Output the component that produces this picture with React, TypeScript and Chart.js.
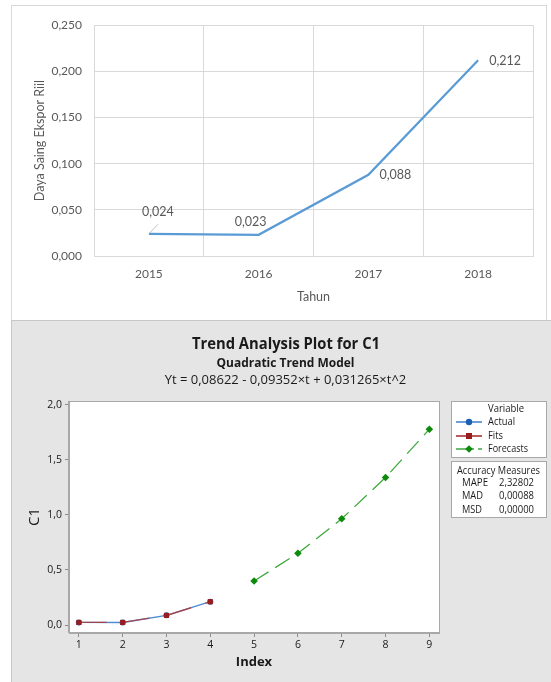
import React, { useEffect, useRef } from "react";
import { Chart, registerables } from "chart.js";

Chart.register(...registerables);

// ---------- Top chart data ----------
const years = ["2015", "2016", "2017", "2018"];
const dayaSaing = [0.024, 0.023, 0.088, 0.212];
const topYTicks = [0, 0.05, 0.1, 0.15, 0.2, 0.25];

// ---------- Bottom chart data ----------
const actualIndex = [1, 2, 3, 4];
const actualValues = [0.024, 0.023, 0.088, 0.212];
const fitValues = [0.024, 0.024, 0.087, 0.212];
const forecastIndex = [5, 6, 7, 8, 9];
const forecastValues = [0.4, 0.651, 0.964, 1.339, 1.777];
const bottomXTicks = [1, 2, 3, 4, 5, 6, 7, 8, 9];
const bottomYTicks = [0, 0.5, 1.0, 1.5, 2.0];
const legendNames = ["Actual", "Fits", "Forecasts"];
const accuracyNames = ["MAPE", "MAD", "MSD"];
const accuracyValues = ["2,32802", "0,00088", "0,00000"];

const fmt3 = (v: number) => Number(v).toFixed(3).replace(".", ",");
const fmt1 = (v: number) => Number(v).toFixed(1).replace(".", ",");

// label offsets (style, relative to each point)
const labelOffsets: [number, number][] = [
  [9, -21.5],
  [-8, -12.5],
  [27, 0.5],
  [27, 0.5],
];

const TOP_OX = 12;
const TOP_OY = 6;
const BOT_OX = 12;
const BOT_OY = 321;

const topLabelPlugin = {
  id: "topLabels",
  afterDatasetsDraw(chart: any) {
    const { ctx } = chart;
    const meta = chart.getDatasetMeta(0);
    ctx.save();
    ctx.font = '12.5px Lato';
    ctx.fillStyle = "#595959";
    ctx.textAlign = "center";
    ctx.textBaseline = "middle";
    meta.data.forEach((pt: any, i: number) => {
      const [dx, dy] = labelOffsets[i];
      ctx.fillText(fmt3(dayaSaing[i]), pt.x + dx, pt.y + dy);
      if (i === 0) {
        ctx.strokeStyle = "#BFBFBF";
        ctx.lineWidth = 1;
        ctx.beginPath();
        ctx.moveTo(pt.x + 0.5, pt.y - 0.5);
        ctx.lineTo(pt.x + 9, pt.y - 9.5);
        ctx.stroke();
      }
    });
    ctx.restore();
  },
};

const FONT = '"Open Sans"';

const bottomDecorPlugin = {
  id: "bottomDecor",
  beforeDraw(chart: any) {
    const { ctx, chartArea: a } = chart;
    ctx.save();
    ctx.fillStyle = "#FFFFFF";
    ctx.fillRect(a.left, a.top, a.right - a.left, a.bottom - a.top);
    ctx.restore();
  },
  afterDraw(chart: any) {
    const { ctx, chartArea: a } = chart;
    ctx.save();
    // plot border
    ctx.strokeStyle = "#A8A8A8";
    ctx.lineWidth = 1;
    ctx.strokeRect(
      Math.round(a.left) - 0.5,
      Math.round(a.top) + 0.5,
      Math.round(a.right - a.left) + 1,
      Math.round(a.bottom - a.top) - 1
    );

    const T = (
      text: string,
      x: number,
      y: number,
      font: string,
      maxW?: number,
      align: CanvasTextAlign = "center",
      color = "#1A1A1A"
    ) => {
      ctx.font = font;
      ctx.textAlign = align;
      ctx.textBaseline = "middle";
      ctx.fillStyle = color;
      if (maxW) ctx.fillText(text, x - BOT_OX, y - BOT_OY, maxW);
      else ctx.fillText(text, x - BOT_OX, y - BOT_OY);
    };

    // Titles
    T("Trend Analysis Plot for C1", 286, 344, `bold 16px ${FONT}`, 188);
    T("Quadratic Trend Model", 285.5, 363, `bold 13px ${FONT}`, 138);
    T("Yt = 0,08622 - 0,09352×t + 0,031265×t^2", 285.5, 380.5, `13px ${FONT}`, 257);

    // Legend box
    const bx = 451 - BOT_OX;
    const bw = 95;
    ctx.fillStyle = "#FFFFFF";
    ctx.strokeStyle = "#A8A8A8";
    ctx.fillRect(bx, 401 - BOT_OY, bw, 56);
    ctx.strokeRect(bx + 0.5, 401 - BOT_OY + 0.5, bw, 56);
    ctx.fillRect(bx, 461 - BOT_OY, bw, 56);
    ctx.strokeRect(bx + 0.5, 461 - BOT_OY + 0.5, bw, 56);

    T("Variable", 506, 409, `10px ${FONT}`, 36);
    const rowsY = [422, 436, 449];
    const lineCols = ["#3F7FCC", "#A32626", "#3FA83F"];
    const markCols = ["#1A5FB4", "#9B1C1C", "#0B8A0B"];
    rowsY.forEach((ry, i) => {
      const y = ry - BOT_OY;
      const x0 = 456 - BOT_OX;
      const x1 = 482 - BOT_OX;
      const mx = 469 - BOT_OX;
      ctx.strokeStyle = lineCols[i];
      ctx.lineWidth = 1.5;
      ctx.beginPath();
      if (i === 2) {
        ctx.moveTo(x0, y);
        ctx.lineTo(mx + 5, y);
        ctx.moveTo(x1 - 4, y);
        ctx.lineTo(x1, y);
      } else {
        ctx.moveTo(x0, y);
        ctx.lineTo(x1, y);
      }
      ctx.stroke();
      ctx.fillStyle = markCols[i];
      ctx.beginPath();
      if (i === 0) {
        ctx.arc(mx, y, 3.2, 0, Math.PI * 2);
      } else if (i === 1) {
        ctx.rect(mx - 3, y - 3, 6, 6);
      } else {
        ctx.moveTo(mx, y - 3.8);
        ctx.lineTo(mx + 3.8, y);
        ctx.lineTo(mx, y + 3.8);
        ctx.lineTo(mx - 3.8, y);
        ctx.closePath();
      }
      ctx.fill();
      T(legendNames[i], 488, ry, `10px ${FONT}`, [27, 15, 40][i], "left");
    });

    T("Accuracy Measures", 498.5, 471, `10px ${FONT}`, 83);
    const accY = [483, 496, 510];
    accY.forEach((ry, i) => {
      T(accuracyNames[i], 462, ry, `10px ${FONT}`, [26, 21, 20][i], "left");
      T(accuracyValues[i], 499, ry, `10px ${FONT}`, 35, "left");
    });
    ctx.restore();
  },
};

export default function App() {
  const topRef = useRef<HTMLCanvasElement | null>(null);
  const botRef = useRef<HTMLCanvasElement | null>(null);

  useEffect(() => {
    if (!topRef.current || !botRef.current) return;

    const topChart = new Chart(topRef.current, {
      type: "line",
      data: {
        labels: years,
        datasets: [
          {
            data: dayaSaing,
            borderColor: "#5B9BD5",
            borderWidth: 2.25,
            pointRadius: 0,
            tension: 0,
            fill: false,
          },
        ],
      },
      options: {
        animation: false,
        responsive: false,
        maintainAspectRatio: false,
        layout: { padding: { top: 16, right: 14, left: 0, bottom: 0 } },
        plugins: { legend: { display: false }, tooltip: { enabled: false } },
        scales: {
          x: {
            offset: true,
            grid: { offset: true, color: "#D9D9D9", drawTicks: false },
            border: { color: "#D9D9D9" },
            ticks: { padding: 11, color: "#595959", font: { family: "Lato", size: 12 } },
            title: {
              display: true,
              text: "Tahun",
              color: "#595959",
              font: { family: "Lato", size: 12.5 },
              padding: { top: 0, bottom: 16 },
            },
            afterFit: (s: any) => {
              s.height = 64;
            },
          },
          y: {
            min: 0,
            max: 0.25,
            afterBuildTicks: (s: any) => {
              s.ticks = topYTicks.map((v) => ({ value: v }));
            },
            grid: { color: "#D9D9D9", drawTicks: false },
            border: { color: "#D9D9D9" },
            ticks: {
              padding: 12,
              color: "#595959",
              font: { family: "Lato", size: 12 },
              callback: (v: any) => fmt3(v),
            },
            title: {
              display: true,
              text: "Daya Saing Ekspor Riil",
              color: "#595959",
              font: { family: "Lato", size: 12.5 },
              padding: { top: 20.5, bottom: 0 },
            },
            afterFit: (s: any) => {
              s.width = 82;
            },
          },
        },
      },
      plugins: [topLabelPlugin],
    });

    const botChart = new Chart(botRef.current, {
      type: "line",
      data: {
        datasets: [
          {
            label: "Actual",
            order: 3,
            data: actualIndex.map((x, i) => ({ x, y: actualValues[i] })),
            borderColor: "#4C8BD0",
            borderWidth: 1.4,
            pointStyle: "circle",
            pointRadius: 3,
            pointBackgroundColor: "#1A5FB4",
            pointBorderWidth: 0,
            tension: 0,
          },
          {
            label: "Fits",
            order: 2,
            data: actualIndex.map((x, i) => ({ x, y: fitValues[i] })),
            borderColor: "rgba(176,52,52,0.8)",
            borderWidth: 1.4,
            borderDash: [28, 15],
            pointStyle: "rect",
            pointRadius: 3.6,
            pointBackgroundColor: "#9B1C1C",
            pointBorderColor: "#9B1C1C",
            pointBorderWidth: 0,
            tension: 0,
          },
          {
            label: "Forecasts",
            order: 1,
            data: forecastIndex.map((x, i) => ({ x, y: forecastValues[i] })),
            borderColor: "#3FA83F",
            borderWidth: 1.3,
            borderDash: [17, 8],
            pointStyle: "rectRot",
            pointRadius: 3.8,
            pointBackgroundColor: "#0B8A0B",
            pointBorderColor: "#0B8A0B",
            pointBorderWidth: 0,
            tension: 0,
          },
        ],
      },
      options: {
        animation: false,
        responsive: false,
        maintainAspectRatio: false,
        layout: { padding: { top: 80, right: 112, left: 0, bottom: 0 } },
        plugins: { legend: { display: false }, tooltip: { enabled: false } },
        scales: {
          x: {
            type: "linear",
            min: 0.775,
            max: 9.22,
            afterBuildTicks: (s: any) => {
              s.ticks = bottomXTicks.map((v) => ({ value: v }));
            },
            grid: { drawOnChartArea: false, drawTicks: true, tickLength: 4, color: "#8C8C8C" },
            border: { color: "#A8A8A8" },
            ticks: {
              padding: 2,
              color: "#1A1A1A",
              font: { family: "Open Sans", size: 10.5 },
              callback: (v: any) => String(v),
            },
            title: {
              display: true,
              text: "Index",
              color: "#1A1A1A",
              font: { family: "Open Sans", size: 13, weight: "bold" },
              padding: { top: 0, bottom: 11.6 },
            },
            afterFit: (s: any) => {
              s.height = 49;
            },
          },
          y: {
            min: -0.072,
            max: 2.033,
            afterBuildTicks: (s: any) => {
              s.ticks = bottomYTicks.map((v) => ({ value: v }));
            },
            grid: { drawOnChartArea: false, drawTicks: true, tickLength: 4, color: "#8C8C8C" },
            border: { color: "#A8A8A8" },
            ticks: {
              padding: 3,
              color: "#1A1A1A",
              font: { family: "Open Sans", size: 10.5 },
              callback: (v: any) => fmt1(v),
            },
            title: {
              display: true,
              text: "C1",
              color: "#1A1A1A",
              font: { family: "Open Sans", size: 15 },
              padding: { top: 14, bottom: 0 },
            },
            afterFit: (s: any) => {
              s.width = 57;
            },
          },
        },
      },
      plugins: [bottomDecorPlugin],
    });

    return () => {
      topChart.destroy();
      botChart.destroy();
    };
  }, []);

  return (
    <div
      style={{
        position: "absolute",
        left: 0,
        top: 0,
        width: 551,
        height: 682,
        overflow: "hidden",
        background: "#FFFFFF",
      }}
    >
      <div
        style={{
          position: "absolute",
          left: 11,
          top: 5,
          width: 536,
          height: 320,
          border: "1px solid #D9D9D9",
          background: "#FFFFFF",
          boxSizing: "border-box",
        }}
      />
      <canvas
        ref={topRef}
        width={535}
        height={314}
        style={{ position: "absolute", left: TOP_OX, top: TOP_OY, width: 535, height: 314 }}
      />
      <div
        style={{
          position: "absolute",
          left: 11,
          top: 320,
          width: 545,
          height: 370,
          background: "#E5E5E5",
          borderTop: "1px solid #C8C8C8",
          borderLeft: "1px solid #C8C8C8",
          boxSizing: "border-box",
        }}
      />
      <canvas
        ref={botRef}
        width={539}
        height={361}
        style={{ position: "absolute", left: BOT_OX, top: BOT_OY, width: 539, height: 361 }}
      />
    </div>
  );
}
